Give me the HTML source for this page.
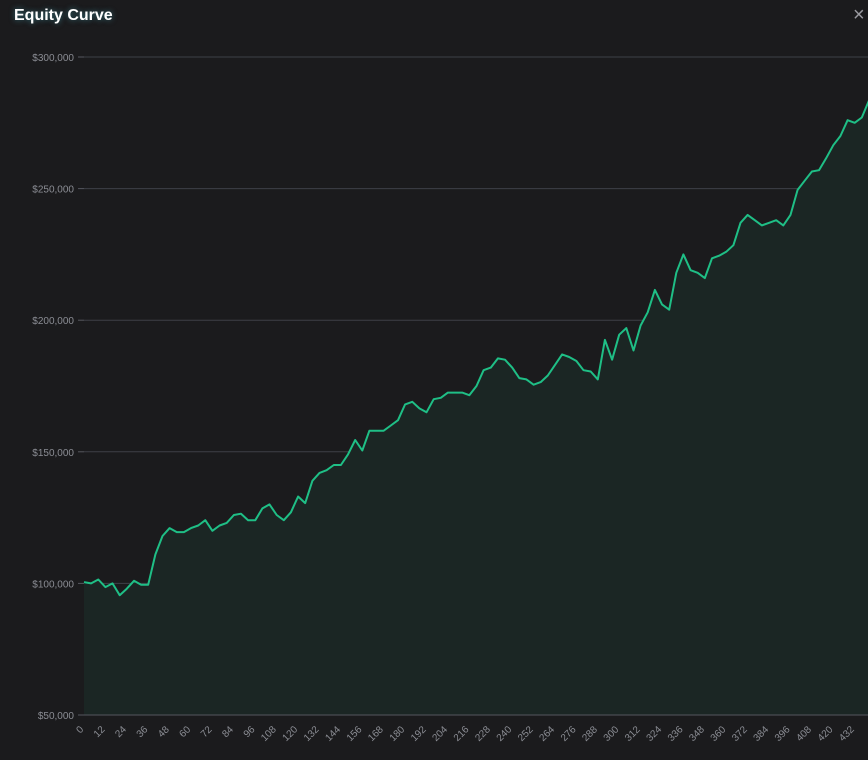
<!DOCTYPE html>
<html><head><meta charset="utf-8"><style>
html,body{margin:0;padding:0;background:#1b1b1d;width:868px;height:760px;overflow:hidden;font-family:"Liberation Sans",sans-serif}
#title{position:absolute;left:14px;top:7px;color:#fff;font-size:16px;font-weight:bold;text-shadow:0 0 6px rgba(80,200,220,0.5)}
#close{position:absolute;left:853px;top:4px;color:#9a9aa0;font-size:20px}
svg{position:absolute;left:0;top:0}
</style></head><body>
<div id="title">Equity Curve</div>
<div id="close">×</div>
<svg id="chart" width="868" height="760"></svg>
<script>
const stepSize = 4;
const equityK = [100.5,100,101.5,98.6,100,95.5,98,101,99.5,99.5,111,118,121,119.5,119.5,121,122,124,120,122,123,126,126.5,124,124,128.5,130,126,124,127,133,130.5,139,142,143,145,145,149,154.5,150.5,158,158,158,160,162,168,169,166.5,165,170,170.5,172.5,172.5,172.5,171.5,175,181,182,185.5,185,182,178,177.5,175.5,176.5,179,183,187,186,184.5,181,180.5,177.5,192.5,185,194.5,197,188.5,198,203,211.5,206,204,218,225,219,218,216,223.5,224.5,226,228.5,237,240,238,236,237,238,236,240,249.5,253,256.5,257,261.5,266.5,270,276,275,277,283.5];
const yTicks = [50000,100000,150000,200000,250000,300000];
const xTicks = [];for(let t=0;t<=432;t+=12)xTicks.push(t);

const NS="http://www.w3.org/2000/svg";
const svg=document.getElementById('chart');
const X0=84, XS=1.784, Y0=715, YS=658/250000;
const xs=i=>X0+i*XS;
const ys=v=>Y0-(v-50000)*YS;
function mk(tag,attrs){const e=document.createElementNS(NS,tag);for(const k in attrs)e.setAttribute(k,attrs[k]);svg.appendChild(e);return e;}

yTicks.forEach(v=>{
  const y=ys(v);
  const g=mk('line',{x1:X0,x2:868,y1:y,y2:y,stroke:v===50000?'#55575e':'#3e4047','stroke-width':1});
  
  
  const tk=mk('line',{x1:X0-6,x2:X0,y1:y,y2:y,stroke:'#55575e'});
  
  
  const t=mk('text',{x:X0-10,y:y+4,'text-anchor':'end',fill:'#8b8d94','font-size':10});
  t.textContent='$'+v.toLocaleString('en-US');
  
  
});
xTicks.forEach(v=>{
  const x=xs(v);
  const t=mk('text',{x:x,y:730,'text-anchor':'end',fill:'#8b8d94','font-size':10,transform:`rotate(-45 ${x} 730)`});
  t.textContent=v;
  
  
});
let d='';
equityK.forEach((v,i)=>{d+=(i?'L':'M')+xs(i*stepSize).toFixed(1)+' '+ys(v*1000).toFixed(1);});
const last=xs((equityK.length-1)*stepSize);
const area=mk('path',{d:d+`L${last} ${Y0}L${X0} ${Y0}Z`,fill:'#1b2624'});


const line=mk('path',{d:d,fill:'none',stroke:'#1fbf86','stroke-width':2,'stroke-linejoin':'round'});


svg.appendChild(svg.querySelector('line[stroke="#55575e"]'));
</script>
</body></html>
